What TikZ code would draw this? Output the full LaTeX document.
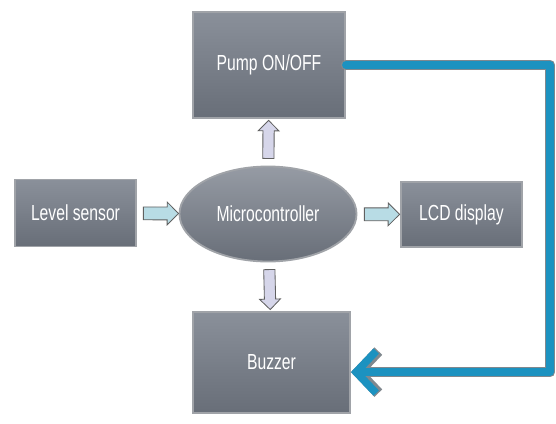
\documentclass[tikz,border=0pt]{standalone}
\usepackage{fontspec}
\setmainfont{Liberation Sans}[FakeStretch=0.72]
\usetikzlibrary{shapes.geometric,shapes.arrows,arrows.meta,calc}
\definecolor{boxtop}{RGB}{138,144,154}
\definecolor{boxmid}{RGB}{84,89,99}
\definecolor{boxbot}{RGB}{104,110,120}
\definecolor{rim}{RGB}{160,163,168}
\definecolor{pipe}{RGB}{28,146,192}
\definecolor{pipeedge}{RGB}{128,136,142}
\definecolor{arrfill}{RGB}{184,220,229}
\definecolor{arrvert}{RGB}{214,214,234}
\tikzset{blk/.style={draw=rim,line width=1.3pt,rectangle,top color=boxtop,middle color=boxmid,bottom color=boxbot,text=white,font=\fontsize{15.5}{18}\selectfont},
 mcu/.style={blk,ellipse,top color=boxtop!90!white,middle color=boxmid!85!white,bottom color=boxbot},
 fat/.style={single arrow,draw=gray!75!black,line width=0.6pt,fill=arrfill,inner xsep=0pt,inner ysep=0.15cm,single arrow head extend=0.125cm,sloped,allow upside down},
 fatv/.style={fat,fill=arrvert,inner ysep=0.13cm,single arrow head extend=0.12cm}}

\begin{document}
\begin{tikzpicture}[x=0.025cm,y=0.025cm]
\useasboundingbox (0,0) rectangle (556,423);
\node[blk,minimum width=3.8cm,minimum height=2.65cm](pump) at(269,358){Pump ON/OFF};
\node[blk,minimum width=3.025cm,minimum height=1.675cm](lvl) at(75.5,210){Level sensor};
\node[mcu,minimum width=4.425cm,minimum height=2.375cm,inner sep=0pt](mcu) at(268,209){Microcontroller};
\node[blk,minimum width=3.025cm,minimum height=1.625cm](lcd) at(461.5,208.5){LCD display};
\node[blk,minimum width=3.925cm,minimum height=2.525cm](buz) at(271.5,60.5){Buzzer};
\path(lvl)--(mcu) node[midway,fat,minimum height=0.88cm]{};
\path(mcu)--(lcd) node[midway,fat,minimum height=0.88cm]{};
\path(mcu)--(pump) node[midway,fatv,minimum height=0.95cm]{};
\path(mcu)--(buz) node[midway,fatv,minimum height=1cm]{};
\coordinate(bend) at(550,358);
\draw[pipeedge,line width=7.6pt,line cap=round,line join=round,-{Straight Barb[length=0.5cm,width=1.05cm]}](pump.east)--(bend)|-([yshift=-0.24cm]buz.east);
\draw[pipe,line width=5.4pt,line cap=round,line join=round,-{Straight Barb[length=0.5cm,width=1.05cm]}](pump.east)--(bend)|-([yshift=-0.24cm]buz.east);
\end{tikzpicture}
\end{document}
